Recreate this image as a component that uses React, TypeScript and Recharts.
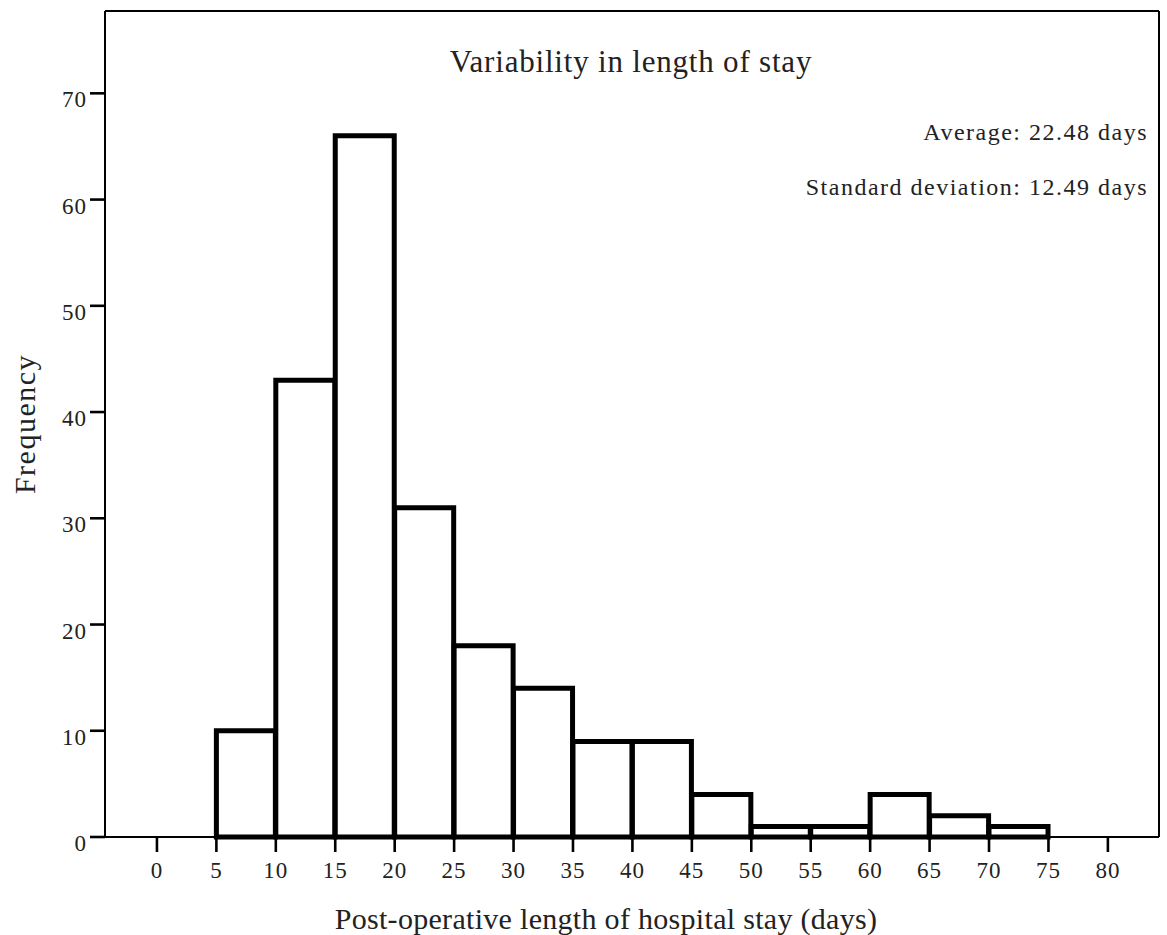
import React from "react";
import {
  BarChart,
  Bar,
  XAxis,
  YAxis,
  ReferenceLine,
  Customized,
} from "recharts";

// histogram bins (days), 5-day width
const binStarts = [5, 10, 15, 20, 25, 30, 35, 40, 45, 50, 55, 60, 65, 70];
const frequencies = [10, 43, 66, 31, 18, 14, 9, 9, 4, 1, 1, 4, 2, 1];
const xTicks = [0, 5, 10, 15, 20, 25, 30, 35, 40, 45, 50, 55, 60, 65, 70, 75, 80];
const yTicks = [0, 10, 20, 30, 40, 50, 60, 70];

const titleText = "Variability in length of stay";
const statsText = ["Average: 22.48 days", "Standard deviation: 12.49 days"];
const xLabel = "Post-operative length of hospital stay (days)";
const yLabel = "Frequency";

const BIN = 5;
const X_DOMAIN: [number, number] = [-4.37, 84.3];
const Y_DOMAIN: [number, number] = [0, 77.75];
const FONT = "'Liberation Serif', 'Times New Roman', serif";

const data = binStarts.map((start, i) => ({
  mid: start + BIN / 2,
  count: frequencies[i],
}));

const axisLine = { stroke: "#000", strokeWidth: 2 };
const tickLine = { stroke: "#000", strokeWidth: 2.6 };
const tickStyle = { fontFamily: FONT, fontSize: 23, fill: "#222", letterSpacing: 1 };

const Annotations = () => (
  <g style={{ fontFamily: FONT, fill: "#222" }}>
    <text x={631} y={72} textAnchor="middle" fontSize={31} letterSpacing={0.8}>
      {titleText}
    </text>
    <text x={1148} y={140} textAnchor="end" fontSize={24} letterSpacing={1.5}>
      {statsText[0]}
    </text>
    <text x={1148} y={195} textAnchor="end" fontSize={24} letterSpacing={1.5}>
      {statsText[1]}
    </text>
  </g>
);

export default function App() {
  return (
    <div style={{ position: "absolute", left: 0, top: 0, width: 1167, height: 935, background: "#fff" }}>
      <BarChart
        width={1167}
        height={935}
        data={data}
        margin={{ top: 11, right: 8, left: 0, bottom: 0 }}
        barCategoryGap={0}
        barGap={0}
      >
        <XAxis
          xAxisId="bottom"
          dataKey="mid"
          type="number"
          domain={X_DOMAIN}
          ticks={xTicks}
          interval={0}
          height={98}
          axisLine={axisLine}
          tickLine={tickLine}
          tickSize={15}
          tickMargin={10}
          tick={tickStyle}
          label={{
            value: xLabel,
            position: "insideBottom",
            offset: 6,
            dx: -26,
            style: { fontFamily: FONT, fontSize: 30, fill: "#222", letterSpacing: 0.3 },
          }}
        />
        <YAxis
          yAxisId="left"
          type="number"
          domain={Y_DOMAIN}
          ticks={yTicks}
          interval={0}
          width={105}
          axisLine={axisLine}
          tickLine={tickLine}
          tickSize={15}
          tickMargin={3}
          tick={{ ...tickStyle, dy: 6 }}
          label={{
            value: yLabel,
            angle: -90,
            position: "insideLeft",
            offset: 24,
            style: { fontFamily: FONT, fontSize: 30, fill: "#222", letterSpacing: 1.5, textAnchor: "middle" },
          }}
        />
        {/* top and right frame */}
        <ReferenceLine xAxisId="bottom" yAxisId="left" y={Y_DOMAIN[1]} stroke="#000" strokeWidth={2} />
        <ReferenceLine xAxisId="bottom" yAxisId="left" x={X_DOMAIN[1]} stroke="#000" strokeWidth={2} />
        <Bar
          xAxisId="bottom"
          yAxisId="left"
          dataKey="count"
          fill="#fff"
          stroke="#000"
          strokeWidth={5}
          isAnimationActive={false}
        />
        <Customized component={Annotations} />
      </BarChart>
    </div>
  );
}
